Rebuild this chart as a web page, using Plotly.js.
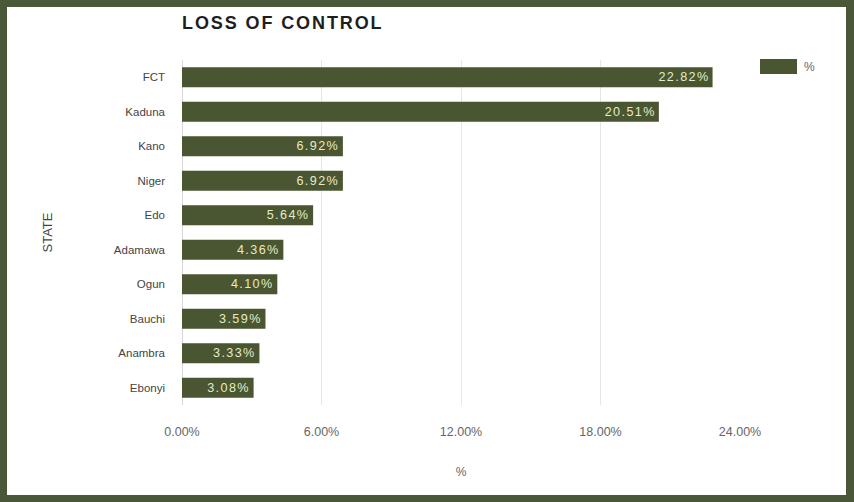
<!DOCTYPE html>
<html>
<head>
<meta charset="utf-8">
<script src="https://cdn.plot.ly/plotly-3.0.1.min.js"></script>
<style>
  html, body { margin: 0; padding: 0; background: #4a5839; width: 854px; height: 502px; overflow: hidden; }
  #chart { position: absolute; left: 7px; top: 7px; width: 839px; height: 488px; background: #ffffff; }
  #chart .bars text { letter-spacing: 1.5px; }
  #chart .gtitle { letter-spacing: 1.9px; }
</style>
</head>
<body>
<div id="chart"></div>
<script>
const states = ["FCT", "Kaduna", "Kano", "Niger", "Edo", "Adamawa", "Ogun", "Bauchi", "Anambra", "Ebonyi"];
const values = [22.82, 20.51, 6.92, 6.92, 5.64, 4.36, 4.10, 3.59, 3.33, 3.08];
const tickVals = [0, 6, 12, 18, 24];
const tickText = tickVals.map(v => v.toFixed(2) + "%");
const seriesName = "%";

const barColor = "#4a5531";
const trace = {
  type: "bar",
  orientation: "h",
  y: states,
  x: values,
  name: seriesName,
  marker: { color: barColor },
  width: 0.58,
  texttemplate: "%{x:.2f}%\u00a0",
  textposition: "inside",
  insidetextanchor: "end",
  textfont: { family: "Liberation Sans, Arial, sans-serif", size: 13.5, color: "#e6ebc6" },
  hoverinfo: "none",
  showlegend: false
};

const layout = {
  width: 839,
  height: 488,
  paper_bgcolor: "#ffffff",
  plot_bgcolor: "#ffffff",
  margin: { l: 175, r: 106, t: 53, b: 90 },
  font: { family: "Liberation Sans, Arial, sans-serif", size: 12, color: "#555555" },
  title: {
    text: "<b>LOSS OF CONTROL</b>",
    font: { family: "Liberation Sans, Arial, sans-serif", size: 18, color: "#1e1e1e" },
    x: 175 / 839, xanchor: "left", xref: "container",
    y: 1 - 16 / 488, yanchor: "middle", yref: "container"
  },
  xaxis: {
    range: [0, 24],
    tickmode: "array",
    tickvals: tickVals,
    ticktext: tickText,
    showgrid: true,
    gridcolor: "#e6e6e6",
    zeroline: true,
    zerolinecolor: "#d8d8d8",
    showline: false,
    ticks: "",
    ticklabelstandoff: 17,
    tickfont: { size: 12.5, color: "#666666" },
    title: { text: "%", font: { size: 12, color: "#666666" }, standoff: 30 },
    automargin: false
  },
  yaxis: {
    autorange: "reversed",
    type: "category",
    ticks: "",
    ticklabelstandoff: 16,
    tickfont: { size: 11.5, color: "#444444" },
    title: { text: "STATE", font: { size: 13, color: "#444444" }, standoff: 58 },
    showgrid: false,
    automargin: false
  },
  shapes: [
    { type: "rect", xref: "paper", yref: "paper",
      x0: 1 + (753 - 733) / 558, x1: 1 + (790 - 733) / 558,
      y0: 1 + (53 - 52) / 345, y1: 1 + (53 - 67) / 345,
      fillcolor: barColor, line: { width: 0 } }
  ],
  annotations: [
    { xref: "paper", yref: "paper", x: 1 + (795 - 733) / 558, y: 1 + (53 - 60) / 345,
      xanchor: "left", yanchor: "middle", showarrow: false, text: seriesName,
      font: { size: 12, color: "#666666" } }
  ]
};

Plotly.newPlot("chart", [trace], layout, { staticPlot: true, displayModeBar: false });
</script>
</body>
</html>
